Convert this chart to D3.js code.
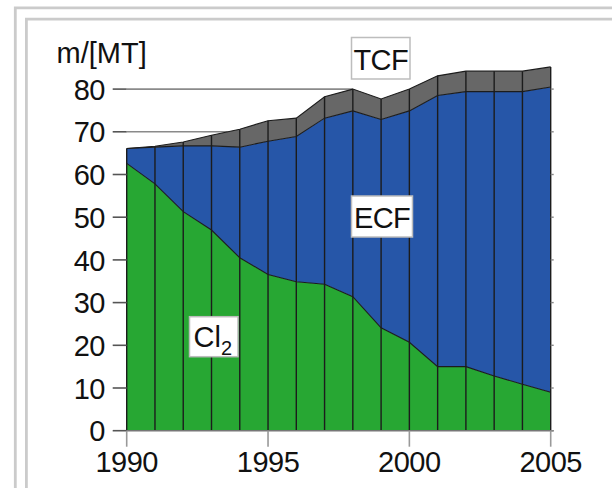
<!DOCTYPE html>
<html>
<head>
<meta charset="utf-8">
<script src="https://cdn.jsdelivr.net/npm/d3@7/dist/d3.min.js"></script>
<style>
html,body{margin:0;padding:0;background:#fff;}
svg{display:block;}
text{font-family:"Liberation Sans",Arial,Helvetica,sans-serif;fill:#111;}
</style>
</head>
<body>
<svg id="chart" width="612" height="488"></svg>
<script>
// ---- data ----
const years = [1990,1991,1992,1993,1994,1995,1996,1997,1998,1999,2000,2001,2002,2003,2004,2005];
const cl2   = [62.6,57.8,51.3,47.0,40.5,36.6,34.9,34.3,31.4,24.1,20.7,15.0,15.0,12.8,10.9,9.0];
const ecf   = [3.5,8.6,15.4,19.7,25.9,31.2,34.0,38.9,43.5,48.8,54.2,63.5,64.4,66.6,68.5,71.5];
const tcf   = [0.0,0.2,0.9,2.5,4.2,4.8,4.3,5.0,5.1,4.8,5.1,4.6,4.8,4.8,4.8,4.7];
const yTicks = [0,10,20,30,40,50,60,70,80];
const xTicks = [1990,1995,2000,2005];
const gridValues = [70,80];
const yTitle = "m/[MT]";
const keys = ["Cl2","ECF","TCF"];
const colors = {Cl2:"#27a733", ECF:"#2656a8", TCF:"#676767"};

const table = years.map((y,i)=>({year:y, Cl2:cl2[i], ECF:ecf[i], TCF:tcf[i]}));

const svg = d3.select("#chart");

// frames
svg.append("path").attr("d","M15.3,488 V7.9 H612").attr("fill","none").attr("stroke","#cbcbcb").attr("stroke-width",2.8);
svg.append("path").attr("d","M26.4,488 V19.1 H612").attr("fill","none").attr("stroke","#cbcbcb").attr("stroke-width",2.8);

const x = d3.scaleLinear().domain([1990,2005]).range([126.7,550.7]);
const y = d3.scaleLinear().domain([0,80]).range([430.7,89.1]);

const series = d3.stack().keys(keys)(table);
const totals = table.map(d=>d.Cl2+d.ECF+d.TCF);

// gridlines (visible above the areas up to where the total first reaches them)
gridValues.forEach(g=>{
  let xe = x(2005);
  for(let i=1;i<totals.length;i++){
    if(totals[i]>=g){
      const t=(g-totals[i-1])/(totals[i]-totals[i-1]);
      xe = x(years[i-1]+Math.max(0,Math.min(1,t)));
      break;
    }
  }
  svg.append("line").attr("x1",x(1990)).attr("x2",xe).attr("y1",y(g)).attr("y2",y(g))
    .attr("stroke","#8a8a8a").attr("stroke-width",1.6);
});

const area = d3.area().x(d=>x(d.data.year)).y0(d=>y(d[0])).y1(d=>y(d[1]));
svg.append("g").selectAll("path").data(series).join("path")
  .attr("d",area).attr("fill",d=>colors[d.key]).attr("stroke","none");

// boundary lines
const line = d3.line().x(d=>x(d.data.year)).y(d=>y(d[1]));
svg.append("g").selectAll("path").data(series).join("path")
  .attr("d",line).attr("fill","none").attr("stroke","#1c1c1c").attr("stroke-width",1.1);

// vertical year lines
svg.append("g").selectAll("line").data(table).join("line")
  .attr("x1",d=>x(d.year)).attr("x2",d=>x(d.year))
  .attr("y1",y(0)).attr("y2",(d,i)=>y(totals[i]))
  .attr("stroke","#1c1c1c").attr("stroke-width",1.4);

// x baseline
svg.append("line").attr("x1",x(1990)).attr("x2",x(2005)+3).attr("y1",y(0)).attr("y2",y(0))
  .attr("stroke","#777").attr("stroke-width",1.6);

// left y ticks
svg.append("g").selectAll("line").data(yTicks).join("line")
  .attr("x1",x(1990)-14).attr("x2",x(1990)).attr("y1",d=>y(d)).attr("y2",d=>y(d))
  .attr("stroke","#555").attr("stroke-width",1.6);
// right y ticks
svg.append("g").selectAll("line").data(yTicks).join("line")
  .attr("x1",x(2005)).attr("x2",x(2005)+3).attr("y1",d=>y(d)).attr("y2",d=>y(d))
  .attr("stroke","#888").attr("stroke-width",1.4);
// x ticks
svg.append("g").selectAll("line").data(xTicks).join("line")
  .attr("x1",d=>x(d)).attr("x2",d=>x(d)).attr("y1",y(0)).attr("y2",y(0)+16)
  .attr("stroke","#999").attr("stroke-width",1.6);

const fs = 29;
// y labels
svg.append("g").selectAll("text").data(yTicks).join("text")
  .attr("x",105).attr("y",d=>y(d)+10.6).attr("text-anchor","end")
  .attr("font-size",fs).attr("letter-spacing","-0.5px").text(d=>d);
// x labels
svg.append("g").selectAll("text").data(xTicks).join("text")
  .attr("x",d=>x(d)).attr("y",471.7).attr("text-anchor","middle")
  .attr("font-size",fs).attr("letter-spacing","-0.5px").text(d=>d);
// title
svg.append("text").attr("x",56.5).attr("y",63.3).attr("font-size",fs).text(yTitle);

// labels with boxes
function box(x0,y0,w,h){
  svg.append("rect").attr("x",x0).attr("y",y0).attr("width",w).attr("height",h)
    .attr("fill","#fff").attr("stroke","#bdbdbd").attr("stroke-width",1.5);
}
box(351.5,37.5,58.5,41.5);
svg.append("text").attr("x",380.8).attr("y",70).attr("text-anchor","middle").attr("font-size",fs).attr("letter-spacing","-0.6px").text("TCF");
box(351.5,196,61,41);
svg.append("text").attr("x",382).attr("y",227.5).attr("text-anchor","middle").attr("font-size",fs).attr("letter-spacing","-0.6px").text("ECF");
box(189.5,316.7,48.5,40);
const t = svg.append("text").attr("x",193.5).attr("y",346.7).attr("font-size",fs);
t.append("tspan").text("Cl");
t.append("tspan").attr("font-size",20).attr("dy",8.3).text("2");
</script>
</body>
</html>
